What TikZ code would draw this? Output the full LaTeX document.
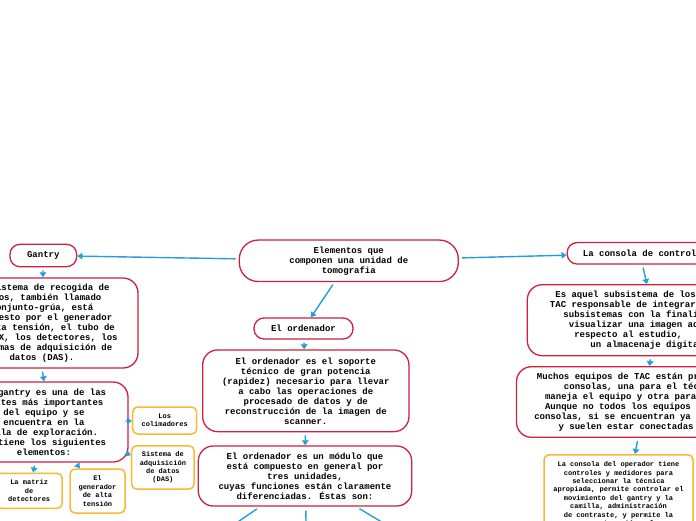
\documentclass[tikz,border=0pt]{standalone}
\usepackage{fontspec}
\setmainfont{Liberation Mono}
\setmonofont{Liberation Mono}
\usetikzlibrary{arrows.meta,calc}
\definecolor{rb}{RGB}{204,33,63}
\definecolor{ob}{RGB}{247,185,50}
\definecolor{ab}{RGB}{38,158,222}
\newcommand{\ph}[1]{\hphantom{#1}}
\begin{document}
\begin{tikzpicture}[x=1pt,y=-1pt,
  rbase/.style={draw=rb, line width=1.3pt, fill=white, align=center, inner sep=0pt,
    font=\bfseries\fontsize{9}{10}\selectfont},
  rbox/.style={rbase, rounded corners=15pt},
  rpill/.style={rbase, rounded corners=10pt},
  rcenter/.style={rbase, rounded corners=19pt},
  obox/.style={draw=ob, line width=1.5pt, fill=white, rounded corners=5pt, align=center,
    inner sep=0pt, font=\bfseries\fontsize{7}{8.4}\selectfont},
  arr/.style={draw=ab, line width=1.4pt, -{Triangle[width=6.5pt,length=5pt]}, shorten <=3pt},
  fline/.style={draw=ab, line width=1.4pt, shorten <=4pt}]
\useasboundingbox (0,0) rectangle (696,520);
\fill[white] (0,0) rectangle (696,520);

% central
\node[rcenter, minimum width=219pt, minimum height=41.5pt] (cen) at (348.8,260.8)
  {Elementos que\\componen una unidad de\\tomografia};

% gantry branch
\node[rpill, minimum width=66.7pt, minimum height=22.4pt] (gan) at (43.3,255.5) {Gantry};
\node[rbox, minimum width=192pt, minimum height=90pt] (gdesc) at (42,323)
  {El sistema de recogida de\\datos, también llamado\\conjunto-grúa, está\\compuesto por el generador\\de alta tensión, el tubo de\\rayos X, los detectores, los\\sistemas de adquisición de\\datos (DAS).};
\node[rbox, minimum width=168pt, minimum height=80pt] (gbox) at (44,422)
  {El gantry es una de las\\partes más importantes\\del equipo y se\\encuentra en la\\sala de exploración.\\Contiene los siguientes\\elementos:};
\node[obox, minimum width=64pt, minimum height=27pt] (col) at (164.7,420.5) {Los\\colimadores};
\node[obox, minimum width=62.5pt, minimum height=43.3pt] (das) at (162.9,467.4) {Sistema de\\adquisición\\de datos\\(DAS)};
\node[obox, minimum width=66pt, minimum height=35pt] (mat) at (29.2,490.8) {La matriz\\de\\detectores};
\node[obox, minimum width=55pt, minimum height=44pt] (gen) at (97.5,491) {El\\generador\\de alta\\tensión};

% ordenador branch
\node[rpill, minimum width=99pt, minimum height=21pt] (ord) at (303.5,328.5) {El ordenador};
\node[rbox, minimum width=206.3pt, minimum height=81.7pt] (odesc) at (305.8,390.8)
  {El ordenador es el soporte\\técnico de gran potencia\\(rapidez) necesario para llevar\\a cabo las operaciones de\\procesado de datos y de\\reconstrucción de la imagen de\\scanner.};
\node[rbox, minimum width=213.4pt, minimum height=60pt] (odesc2) at (305,476)
  {El ordenador es un módulo que\\está compuesto en general por\\tres unidades,\\cuyas funciones están claramente\\diferenciadas. Éstas son:};
\coordinate (e1) at (184.3,558.5);
\coordinate (e2) at (306.9,560);
\coordinate (e3) at (442.5,558.5);

% consola branch
\node[rpill, minimum width=145pt, minimum height=21.5pt] (con) at (639.7,253.3) {La consola de control};
\node[rbox, minimum width=256pt, minimum height=71pt] (cdesc) at (655.3,320.2)
  {Es aquel subsistema de los equipos de\\TAC responsable de integrar todos los\ph{xx}\\subsistemas con la finalidad de\ph{xxx}\\visualizar una imagen adecuada\ph{xx}\\respecto al estudio,\ph{xxxxxxxxxx}\\un almacenaje digital.\ph{xx}};
\node[rbox, minimum width=257pt, minimum height=70.6pt] (much) at (645,402)
  {Muchos equipos de TAC están provistos de\\consolas, una para el técnico\ph{x}\\maneja el equipo y otra para el\ph{xxxxxx}\\Aunque no todos los equipos tienen\ph{xxx}\\consolas, si se encuentran ya en muchos\ph{xx}\\y suelen estar conectadas entre\ph{x}};
\node[obox, anchor=north, minimum width=149pt, minimum height=96pt] (ocon) at (618.5,454)
  {La consola del operador tiene\\controles y medidores para\\seleccionar la técnica\\apropiada, permite controlar el\\movimiento del gantry y la\\camilla, administración\\de contraste, y permite la\\reconstrucción y la\\visualización de las\\imágenes.};

% connectors
\draw[arr] (cen) -- (gan);
\draw[arr] (cen) -- (ord);
\draw[arr] (cen) -- (con);
\draw[arr] (gan) -- (gdesc);
\draw[arr] (gdesc.south) -- (gbox.north);
\draw[arr] (gbox) -- (col);
\draw[arr] (gbox) -- (das);
\draw[arr] (gbox) -- (mat);
\draw[arr] (gbox) -- (gen);
\draw[arr] (ord) -- (odesc);
\draw[arr] (odesc) -- (odesc2);
\draw[fline] (odesc2) -- (e1);
\draw[fline] (odesc2) -- (e2);
\draw[fline] (odesc2) -- (e3);
\draw[arr] (con) -- (cdesc);
\draw[arr] (cdesc) -- (much);
\draw[arr] (much) -- ([xshift=16.5pt]ocon.north);
\end{tikzpicture}
\end{document}
